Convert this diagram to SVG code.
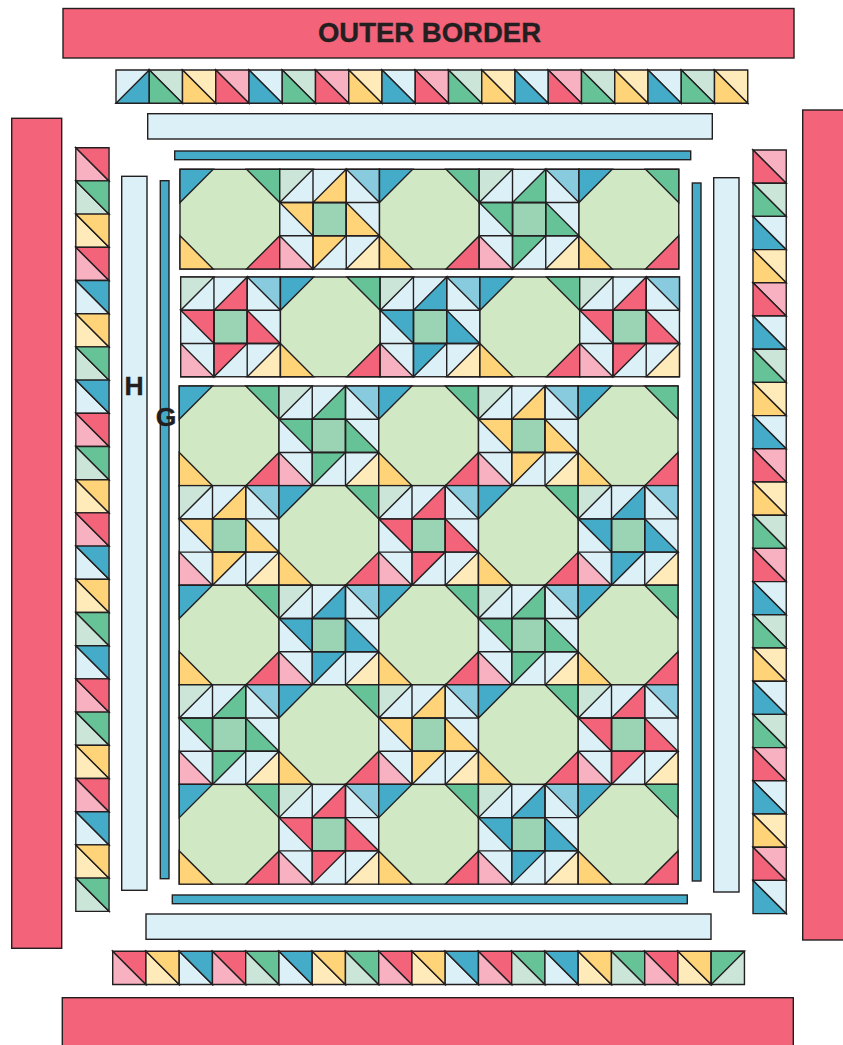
<svg xmlns="http://www.w3.org/2000/svg" width="843" height="1045" viewBox="0 0 843 1045">
<style>
.ln{stroke:#231F20;stroke-width:1.4;fill:none}
.art{stroke:#231F20;stroke-width:1.4}
.R{fill:#F3637A}.B{fill:#44ACC8}.G{fill:#66C397}.Y{fill:#FFD478}
.r{fill:#F7B1C1}.b{fill:#DCF0F7}.g{fill:#CBE6D9}.y{fill:#FFEBB9}
.m{fill:#88CBDF}.c{fill:#9BD3B5}.o{fill:#D1E8C4}
text{font-family:"Liberation Sans",Arial,sans-serif;font-weight:700;fill:#231F20;stroke:#231F20;stroke-width:.35}
</style>
<defs>
<g id="oct">
<rect class="o" width="99.75" height="99.75"/>
<path class="B" d="M0 0H33.25L0 33.25Z"/>
<path class="G" d="M66.5 0H99.75V33.25Z"/>
<path class="Y" d="M0 66.5V99.75H33.25Z"/>
<path class="R" d="M99.75 66.5V99.75H66.5Z"/>
</g>
<g id="star">
<rect class="b" width="99.75" height="99.75"/>
<rect class="c" x="33.25" y="33.25" width="33.25" height="33.25"/>
<path class="g" d="M0 0H33.25L0 33.25Z"/>
<path class="m" d="M66.5 0H99.75V33.25Z"/>
<path class="r" d="M0 66.5L33.25 99.75H0Z"/>
<path class="y" d="M99.75 66.5V99.75H66.5Z"/>
<path d="M66.5 0V33.25H33.25Z"/>
<path d="M0 33.25H33.25V66.5Z"/>
<path d="M66.5 33.25L99.75 66.5H66.5Z"/>
<path d="M33.25 66.5H66.5L33.25 99.75Z"/>
<path class="ln" d="M33.25 0V99.75M66.5 0V99.75M0 33.25H99.75M0 66.5H99.75"/>
</g>
<g id="dB"><path class="b" d="M0 0H33.25V33.25Z"/><path class="B" d="M0 0V33.25H33.25Z"/></g>
<g id="dG"><path class="g" d="M0 0H33.25V33.25Z"/><path class="G" d="M0 0V33.25H33.25Z"/></g>
<g id="dY"><path class="y" d="M0 0H33.25V33.25Z"/><path class="Y" d="M0 0V33.25H33.25Z"/></g>
<g id="dR"><path class="r" d="M0 0H33.25V33.25Z"/><path class="R" d="M0 0V33.25H33.25Z"/></g>
<g id="uB"><path class="b" d="M0 0V33.25H33.25Z"/><path class="B" d="M0 0H33.25V33.25Z"/></g>
<g id="uG"><path class="g" d="M0 0V33.25H33.25Z"/><path class="G" d="M0 0H33.25V33.25Z"/></g>
<g id="uY"><path class="y" d="M0 0V33.25H33.25Z"/><path class="Y" d="M0 0H33.25V33.25Z"/></g>
<g id="uR"><path class="r" d="M0 0V33.25H33.25Z"/><path class="R" d="M0 0H33.25V33.25Z"/></g>
</defs>
<g class="art">
<g id="outer-border">
<rect class="R" x="63" y="8.5" width="731" height="49.5"/>
<rect class="R" x="11.7" y="118.3" width="50" height="830"/>
<rect class="R" x="802.7" y="110" width="50" height="830"/>
<rect class="R" x="62.3" y="997.7" width="731" height="60"/>
</g>
<g id="border-h">
<rect class="b" x="147.7" y="113.7" width="564.6" height="25.3"/>
<rect class="b" x="121.7" y="176.3" width="25.3" height="714"/>
<rect class="b" x="713.7" y="177.7" width="25.3" height="714.3"/>
<rect class="b" x="146" y="914" width="565" height="25.3"/>
</g>
<g id="border-g">
<rect class="B" x="174.7" y="151" width="516" height="8.7"/>
<rect class="B" x="160.3" y="180.7" width="8.7" height="698"/>
<rect class="B" x="692.3" y="183" width="8.7" height="698"/>
<rect class="B" x="172.3" y="895" width="515" height="8.7"/>
</g>
<g id="strip-top">
<path class="b" d="M116 70H149.25V103.25H116Z"/><path class="B" d="M116 103.25L149.25 70V103.25Z"/>
<use href="#dG" x="149.25" y="70"/><use href="#dY" x="182.5" y="70"/><use href="#dR" x="215.75" y="70"/><use href="#dB" x="249" y="70"/><use href="#dG" x="282.25" y="70"/><use href="#dR" x="315.5" y="70"/><use href="#dY" x="348.75" y="70"/><use href="#dB" x="382" y="70"/><use href="#dR" x="415.25" y="70"/><use href="#dG" x="448.5" y="70"/><use href="#dY" x="481.75" y="70"/><use href="#dB" x="515" y="70"/><use href="#dR" x="548.25" y="70"/><use href="#dG" x="581.5" y="70"/><use href="#dY" x="614.75" y="70"/><use href="#dB" x="648" y="70"/><use href="#dG" x="681.25" y="70"/><use href="#dY" x="714.5" y="70"/>
</g>
<g id="strip-bottom">
<use href="#uR" x="112.7" y="951.2"/><use href="#uY" x="145.95" y="951.2"/><use href="#uB" x="179.2" y="951.2"/><use href="#uR" x="212.45" y="951.2"/><use href="#uG" x="245.7" y="951.2"/><use href="#uB" x="278.95" y="951.2"/><use href="#uY" x="312.2" y="951.2"/><use href="#uG" x="345.45" y="951.2"/><use href="#uR" x="378.7" y="951.2"/><use href="#uY" x="411.95" y="951.2"/><use href="#uB" x="445.2" y="951.2"/><use href="#uR" x="478.45" y="951.2"/><use href="#uG" x="511.7" y="951.2"/><use href="#uB" x="544.95" y="951.2"/><use href="#uY" x="578.2" y="951.2"/><use href="#uG" x="611.45" y="951.2"/><use href="#uR" x="644.7" y="951.2"/><use href="#uY" x="677.95" y="951.2"/>
<path class="g" d="M711.2 951.2H744.45V984.45H711.2Z"/><path class="G" d="M711.2 951.2H744.45L711.2 984.45Z"/>
</g>
<g id="strip-left">
<use href="#uR" x="75.8" y="147.7"/><use href="#uG" x="75.8" y="180.9"/><use href="#uY" x="75.8" y="214.1"/><use href="#uR" x="75.8" y="247.3"/><use href="#uB" x="75.8" y="280.5"/><use href="#uY" x="75.8" y="313.7"/><use href="#uG" x="75.8" y="346.9"/><use href="#uB" x="75.8" y="380.1"/><use href="#uR" x="75.8" y="413.3"/><use href="#uG" x="75.8" y="446.5"/><use href="#uY" x="75.8" y="479.7"/><use href="#uR" x="75.8" y="512.9"/><use href="#uB" x="75.8" y="546.1"/><use href="#uY" x="75.8" y="579.3"/><use href="#uG" x="75.8" y="612.5"/><use href="#uB" x="75.8" y="645.7"/><use href="#uR" x="75.8" y="678.9"/><use href="#uG" x="75.8" y="712.1"/><use href="#uY" x="75.8" y="745.3"/><use href="#uR" x="75.8" y="778.5"/><use href="#uB" x="75.8" y="811.7"/><use href="#uY" x="75.8" y="844.9"/><use href="#uG" x="75.8" y="878.1"/>
</g>
<g id="strip-right">
<use href="#dR" x="753" y="150"/><use href="#dG" x="753" y="183.2"/><use href="#dB" x="753" y="216.4"/><use href="#dY" x="753" y="249.6"/><use href="#dR" x="753" y="282.8"/><use href="#dB" x="753" y="316"/><use href="#dG" x="753" y="349.2"/><use href="#dY" x="753" y="382.4"/><use href="#dB" x="753" y="415.6"/><use href="#dR" x="753" y="448.8"/><use href="#dY" x="753" y="482"/><use href="#dG" x="753" y="515.2"/><use href="#dR" x="753" y="548.4"/><use href="#dB" x="753" y="581.6"/><use href="#dG" x="753" y="614.8"/><use href="#dY" x="753" y="648"/><use href="#dB" x="753" y="681.2"/><use href="#dG" x="753" y="714.4"/><use href="#dR" x="753" y="747.6"/><use href="#dB" x="753" y="780.8"/><use href="#dY" x="753" y="814"/><use href="#dR" x="753" y="847.2"/><use href="#dB" x="753" y="880.4"/>
</g>
<g id="row1">
<g id="r1c1"><use href="#oct" x="180" y="169.3"/></g>
<g id="r1c2"><use href="#star" x="279.75" y="169.3" fill="#FFD478"/></g>
<g id="r1c3"><use href="#oct" x="379.5" y="169.3"/></g>
<g id="r1c4"><use href="#star" x="479.25" y="169.3" fill="#66C397"/></g>
<g id="r1c5"><use href="#oct" x="579" y="169.3"/></g>
</g>
<g id="row2">
<g id="r2c1"><use href="#star" x="180.7" y="277" fill="#F3637A"/></g>
<g id="r2c2"><use href="#oct" x="280.45" y="277"/></g>
<g id="r2c3"><use href="#star" x="380.2" y="277" fill="#44ACC8"/></g>
<g id="r2c4"><use href="#oct" x="479.95" y="277"/></g>
<g id="r2c5"><use href="#star" x="579.7" y="277" fill="#F3637A"/></g>
</g>
<g id="row3">
<g id="r3c1"><use href="#oct" x="179.25" y="386"/></g>
<g id="r3c2"><use href="#star" x="279" y="386" fill="#66C397"/></g>
<g id="r3c3"><use href="#oct" x="378.75" y="386"/></g>
<g id="r3c4"><use href="#star" x="478.5" y="386" fill="#FFD478"/></g>
<g id="r3c5"><use href="#oct" x="578.25" y="386"/></g>
</g>
<g id="row4">
<g id="r4c1"><use href="#star" x="179.25" y="485.6" fill="#FFD478"/></g>
<g id="r4c2"><use href="#oct" x="279" y="485.6"/></g>
<g id="r4c3"><use href="#star" x="378.75" y="485.6" fill="#F3637A"/></g>
<g id="r4c4"><use href="#oct" x="478.5" y="485.6"/></g>
<g id="r4c5"><use href="#star" x="578.25" y="485.6" fill="#44ACC8"/></g>
</g>
<g id="row5">
<g id="r5c1"><use href="#oct" x="179.25" y="585.2"/></g>
<g id="r5c2"><use href="#star" x="279" y="585.2" fill="#44ACC8"/></g>
<g id="r5c3"><use href="#oct" x="378.75" y="585.2"/></g>
<g id="r5c4"><use href="#star" x="478.5" y="585.2" fill="#66C397"/></g>
<g id="r5c5"><use href="#oct" x="578.25" y="585.2"/></g>
</g>
<g id="row6">
<g id="r6c1"><use href="#star" x="179.25" y="684.8" fill="#66C397"/></g>
<g id="r6c2"><use href="#oct" x="279" y="684.8"/></g>
<g id="r6c3"><use href="#star" x="378.75" y="684.8" fill="#FFD478"/></g>
<g id="r6c4"><use href="#oct" x="478.5" y="684.8"/></g>
<g id="r6c5"><use href="#star" x="578.25" y="684.8" fill="#F3637A"/></g>
</g>
<g id="row7">
<g id="r7c1"><use href="#oct" x="179.25" y="784.4"/></g>
<g id="r7c2"><use href="#star" x="279" y="784.4" fill="#F3637A"/></g>
<g id="r7c3"><use href="#oct" x="378.75" y="784.4"/></g>
<g id="r7c4"><use href="#star" x="478.5" y="784.4" fill="#44ACC8"/></g>
<g id="r7c5"><use href="#oct" x="578.25" y="784.4"/></g>
</g>
</g>
<text x="429.5" y="42" font-size="27.5" text-anchor="middle">OUTER BORDER</text>
<text x="134" y="395" font-size="26.5" text-anchor="middle">H</text>
<text x="166" y="425.5" font-size="26.5" text-anchor="middle">G</text>
</svg>
